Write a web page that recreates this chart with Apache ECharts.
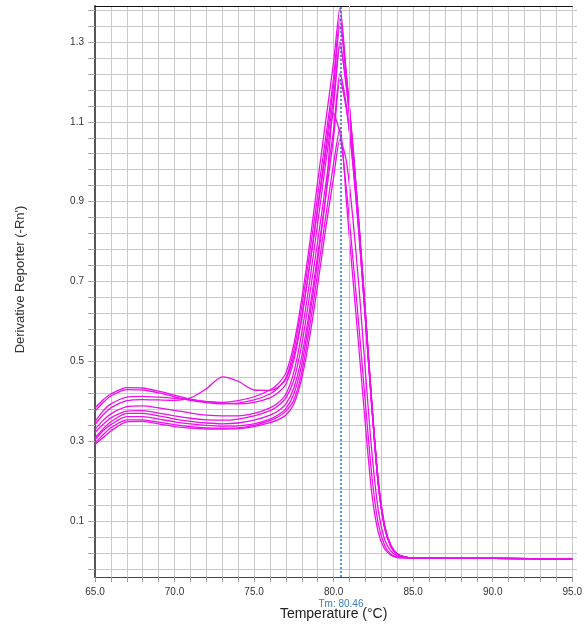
<!DOCTYPE html>
<html><head><meta charset="utf-8">
<script src="https://cdn.jsdelivr.net/npm/echarts@6/dist/echarts.min.js"></script>
<style>html,body{margin:0;padding:0;background:#fff}#chart{width:585px;height:626px}</style>
</head><body><div id="chart"></div>
<script>
// Temperature sampling points (°C)
const temps = [65, 65.5, 66, 67, 68, 69, 70, 71, 72, 73, 74, 75, 76, 76.5, 77, 77.5, 78, 78.5, 79, 79.5, 80, 80.4, 80.8, 81.2, 81.6, 82, 82.4, 82.8, 83.2, 83.6, 84, 84.5, 85, 87, 90, 95];

// Derivative reporter values, one array per well
const curve1 = [0.380, 0.400, 0.415, 0.431, 0.430, 0.422, 0.412, 0.402, 0.396, 0.394, 0.398, 0.408, 0.425, 0.440, 0.468, 0.540, 0.655, 0.795, 0.950, 1.100, 1.250, 1.385, 1.220, 1.045, 0.840, 0.620, 0.390, 0.190, 0.080, 0.032, 0.012, 0.005, 0.003, 0.002, 0.002, 0.000];
const curve2 = [0.372, 0.393, 0.410, 0.426, 0.425, 0.418, 0.408, 0.399, 0.393, 0.390, 0.392, 0.400, 0.415, 0.430, 0.455, 0.525, 0.635, 0.770, 0.915, 1.060, 1.210, 1.360, 1.215, 1.040, 0.835, 0.615, 0.390, 0.195, 0.083, 0.033, 0.013, 0.005, 0.003, 0.002, 0.002, 0.000];
const curve3 = [0.345, 0.372, 0.390, 0.407, 0.409, 0.407, 0.404, 0.400, 0.396, 0.392, 0.390, 0.394, 0.405, 0.418, 0.440, 0.500, 0.605, 0.740, 0.885, 1.035, 1.190, 1.340, 1.210, 1.035, 0.830, 0.610, 0.385, 0.190, 0.080, 0.032, 0.012, 0.005, 0.003, 0.002, 0.002, 0.000];
const curve4 = [0.338, 0.362, 0.380, 0.398, 0.401, 0.400, 0.399, 0.405, 0.428, 0.458, 0.447, 0.425, 0.424, 0.432, 0.452, 0.510, 0.610, 0.740, 0.880, 1.020, 1.160, 1.300, 1.190, 1.025, 0.825, 0.605, 0.380, 0.190, 0.080, 0.030, 0.012, 0.005, 0.003, 0.002, 0.002, 0.000];
const curve5 = [0.326, 0.348, 0.365, 0.383, 0.385, 0.380, 0.374, 0.367, 0.362, 0.360, 0.360, 0.366, 0.380, 0.392, 0.415, 0.470, 0.570, 0.700, 0.845, 0.995, 1.140, 1.290, 1.185, 1.030, 0.835, 0.615, 0.395, 0.200, 0.085, 0.034, 0.013, 0.005, 0.003, 0.002, 0.002, 0.000];
const curve6 = [0.318, 0.338, 0.355, 0.372, 0.373, 0.367, 0.360, 0.354, 0.350, 0.349, 0.352, 0.360, 0.373, 0.385, 0.405, 0.450, 0.540, 0.665, 0.800, 0.940, 1.080, 1.220, 1.140, 1.000, 0.815, 0.600, 0.385, 0.195, 0.083, 0.033, 0.013, 0.005, 0.003, 0.002, 0.002, 0.000];
const curve7 = [0.305, 0.327, 0.345, 0.366, 0.366, 0.360, 0.352, 0.346, 0.342, 0.340, 0.342, 0.349, 0.362, 0.372, 0.390, 0.430, 0.510, 0.630, 0.765, 0.910, 1.060, 1.205, 1.130, 0.995, 0.810, 0.600, 0.385, 0.200, 0.085, 0.034, 0.013, 0.005, 0.003, 0.002, 0.002, 0.000];
const curve8 = [0.300, 0.322, 0.338, 0.358, 0.358, 0.352, 0.345, 0.340, 0.336, 0.334, 0.335, 0.340, 0.352, 0.362, 0.378, 0.415, 0.490, 0.610, 0.750, 0.910, 1.120, 1.070, 0.930, 0.760, 0.580, 0.390, 0.210, 0.090, 0.035, 0.012, 0.005, 0.003, 0.002, 0.002, 0.002, 0.000];
const curve9 = [0.292, 0.312, 0.330, 0.350, 0.350, 0.344, 0.338, 0.333, 0.330, 0.329, 0.330, 0.336, 0.348, 0.357, 0.372, 0.400, 0.470, 0.585, 0.720, 0.860, 0.995, 1.085, 0.900, 0.710, 0.525, 0.335, 0.165, 0.068, 0.026, 0.010, 0.004, 0.003, 0.002, 0.002, 0.002, 0.000];
const curve10 = [0.288, 0.305, 0.322, 0.345, 0.346, 0.340, 0.333, 0.329, 0.327, 0.327, 0.328, 0.333, 0.343, 0.350, 0.362, 0.390, 0.455, 0.560, 0.690, 0.830, 0.960, 1.055, 1.000, 0.860, 0.680, 0.470, 0.270, 0.125, 0.050, 0.020, 0.008, 0.004, 0.003, 0.002, 0.002, 0.000];

// Tick labels
const xTickLabels = [65, 70, 75, 80, 85, 90, 95];
const yTickLabels = [0.1, 0.3, 0.5, 0.7, 0.9, 1.1, 1.3];

// Markers
const tmValue = 80.46;
const markerLineT = 80.96;

const curves = [curve1, curve2, curve3, curve4, curve5, curve6, curve7, curve8, curve9, curve10];

// Axis ranges
const Y_MIN = -0.045, Y_MAX = 1.39;     // data axis
const GL_MIN = -0.02, GL_MAX = 1.38;    // gridline axis (every 0.04)
const H = 626, GRID_TOP = 6, GRID_BOTTOM = 47, GRID_LEFT = 95, GRID_RIGHT = 8;
const plotH = H - GRID_TOP - GRID_BOTTOM;
const pxPerUnit = plotH / (Y_MAX - Y_MIN);
const grid2Top = GRID_TOP + (Y_MAX - GL_MAX) * pxPerUnit;
const grid2Bottom = GRID_BOTTOM + (GL_MIN - Y_MIN) * pxPerUnit;

const FONT = 'Liberation Sans, Arial, sans-serif';
const gridColor = '#c8c8c8';
const lineColor = '#ec10ec';
const tmColor = '#1f6fd6';

const chart = echarts.init(document.getElementById('chart'));

const curveSeries = curves.map(c => ({
  type: 'line', xAxisIndex: 0, yAxisIndex: 0,
  data: temps.map((t, i) => [t, c[i]]),
  showSymbol: false, symbol: 'none',
  smooth: 0.25,
  lineStyle: {color: lineColor, width: 1.3},
  silent: true, z: 3
}));

// marker lines: separate empty series so their colours are independent
const pinkMarker = {
  type: 'line', xAxisIndex: 0, yAxisIndex: 0, data: [], silent: true, z: 2,
  color: '#eba7eb',
  markLine: {
    silent: true, symbol: ['none', 'none'],
    lineStyle: {color: '#eba7eb', type: 'solid', width: 1},
    label: {show: false},
    data: [{xAxis: markerLineT}]
  }
};
const tmMarker = {
  type: 'line', xAxisIndex: 0, yAxisIndex: 0, data: [], silent: true, z: 6,
  color: tmColor,
  markLine: {
    silent: true, symbol: ['none', 'none'], z: 6,
    lineStyle: {color: tmColor, type: [2, 2], width: 1.5, opacity: 1},
    label: {show: true, position: 'start', formatter: 'Tm: ' + tmValue.toFixed(2),
            color: '#3a7cc0', fontSize: 10, fontFamily: FONT, distance: 22},
    data: [{xAxis: tmValue}]
  }
};

const option = {
  animation: false,
  backgroundColor: '#ffffff',
  grid: [
    {left: GRID_LEFT, right: GRID_RIGHT, top: GRID_TOP, bottom: GRID_BOTTOM},
    {left: GRID_LEFT, right: GRID_RIGHT, top: grid2Top, bottom: grid2Bottom}
  ],
  xAxis: [
    {
      gridIndex: 0, type: 'value', min: 65, max: 95, interval: 1, position: 'bottom',
      axisLine: {show: true, onZero: false, lineStyle: {color: '#444', width: 1}},
      axisTick: {show: true, length: 5, lineStyle: {color: '#999'}},
      axisLabel: {
        margin: 10, color: '#333', fontSize: 10, fontFamily: FONT,
        formatter: v => xTickLabels.some(t => Math.abs(t - v) < 1e-6) ? v.toFixed(1) : ''
      },
      splitLine: {show: true, lineStyle: {color: gridColor, width: 1}},
      name: 'Temperature (°C)', nameLocation: 'middle', nameGap: 30,
      nameTextStyle: {fontSize: 14, color: '#222', fontFamily: FONT}
    },
    {
      gridIndex: 0, type: 'value', min: 65, max: 95, position: 'top',
      axisLine: {show: true, onZero: false, lineStyle: {color: '#111', width: 1}},
      axisTick: {show: false}, axisLabel: {show: false}, splitLine: {show: false}
    },
    {gridIndex: 1, type: 'value', min: 65, max: 95, show: false}
  ],
  yAxis: [
    {
      gridIndex: 0, type: 'value', min: Y_MIN, max: Y_MAX,
      axisLine: {show: true, onZero: false, lineStyle: {color: '#555', width: 2}},
      axisTick: {show: false}, axisLabel: {show: false}, splitLine: {show: false},
      name: "Derivative Reporter (-Rn')", nameLocation: 'middle', nameGap: 68,
      nameTextStyle: {fontSize: 13, color: '#333', fontFamily: FONT, padding: [0, 0, 0, 24]}
    },
    {
      gridIndex: 1, type: 'value', min: GL_MIN, max: GL_MAX, interval: 0.04,
      axisLine: {show: false},
      axisTick: {show: true, length: 7, lineStyle: {color: '#aaa'}},
      axisLabel: {
        margin: 11, color: '#333', fontSize: 10, fontFamily: FONT,
        formatter: v => yTickLabels.some(t => Math.abs(t - v) < 1e-6) ? v.toFixed(1) : ''
      },
      splitLine: {show: true, lineStyle: {color: gridColor, width: 1}}
    }
  ],
  series: [pinkMarker].concat(curveSeries, [tmMarker])
};
chart.setOption(option);
</script>
</body></html>
